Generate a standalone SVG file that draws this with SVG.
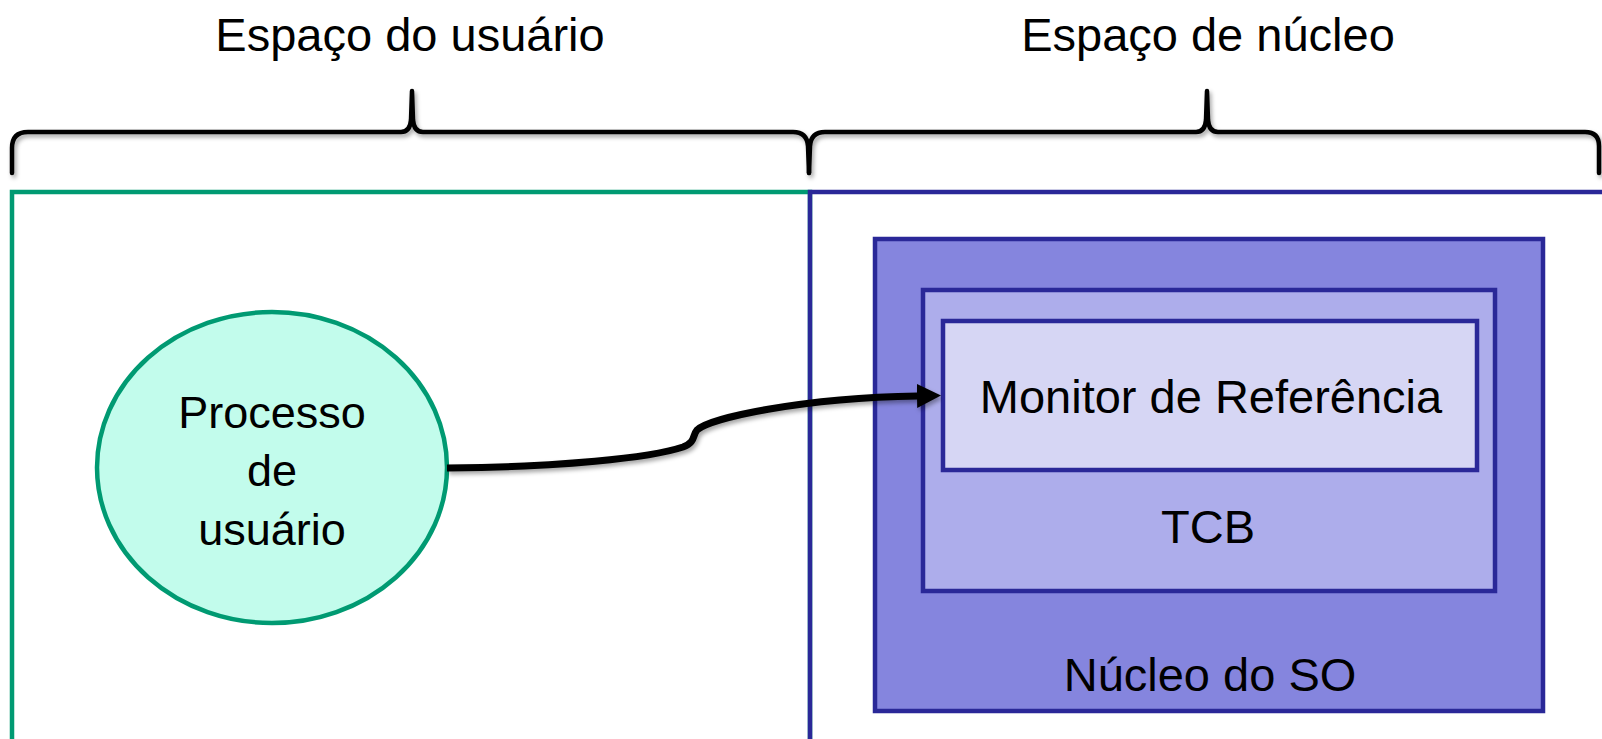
<svg xmlns="http://www.w3.org/2000/svg" width="1602" height="739" viewBox="0 0 1602 739">
  <defs>
    <style>
      .label { font-family: "Liberation Sans", Arial, sans-serif; fill: #000; text-anchor: middle; }
      .title { font-size: 47px; }
      .brace { fill: none; stroke: #000; stroke-width: 4.5; stroke-linecap: round; stroke-linejoin: round; }
      .box { stroke: #2a2898; stroke-width: 4.5; }
      .conn { fill: none; stroke: #000; stroke-width: 7; }
    </style>
    <filter id="shadow" x="-5%" y="-20%" width="110%" height="160%">
      <feDropShadow dx="2" dy="3" stdDeviation="2" flood-color="#000" flood-opacity="0.35"/>
    </filter>
    <marker id="arrowhead" markerUnits="userSpaceOnUse" markerWidth="26" markerHeight="26" refX="1" refY="12" orient="auto">
      <path d="M0,0 L24,12 L0,24 z" fill="#000"/>
    </marker>
  </defs>

  <!-- address-space regions -->
  <g id="user-space">
    <rect x="12" y="192" width="798" height="600" fill="none" stroke="#009a72" stroke-width="4.5"/>
    <text class="label title" x="410" y="51">Espaço do usuário</text>
  </g>
  <g id="kernel-space">
    <rect x="810" y="192" width="800" height="600" fill="none" stroke="#2a2898" stroke-width="4.5"/>
    <text class="label title" x="1208" y="51">Espaço de núcleo</text>
  </g>

  <!-- curly braces over each region -->
  <g id="braces" filter="url(#shadow)">
    <path class="brace" d="M12,173 L12,148 Q12,132 28,132 L401,132 Q410,132 411,120 L412,91 L413,120 Q414,132 423,132 L793,132 Q807,132 808,146 L809,173"/>
    <path class="brace" d="M809,173 L810,146 Q811,132 825,132 L1196,132 Q1205,132 1206,120 L1207,91 L1208,120 Q1209,132 1218,132 L1585,132 Q1599,132 1599,146 L1599,173"/>
  </g>

  <!-- user process -->
  <g id="user-process">
    <ellipse cx="272" cy="467.5" rx="175" ry="155.5" fill="#c2fcec" stroke="#009a72" stroke-width="4.5"/>
    <text class="label" font-size="45" x="272" y="428">Processo</text>
    <text class="label" font-size="45" x="272" y="486">de</text>
    <text class="label" font-size="45" x="272" y="545">usuário</text>
  </g>

  <!-- kernel layers -->
  <g id="os-kernel">
    <rect class="box" x="875" y="239" width="668" height="472" fill="#8585de"/>
    <text class="label title" x="1210" y="691">Núcleo do SO</text>
  </g>
  <g id="tcb">
    <rect class="box" x="923" y="290" width="572" height="301" fill="#adadeb"/>
    <text class="label title" x="1208" y="543">TCB</text>
  </g>
  <g id="reference-monitor">
    <rect class="box" x="943" y="321" width="534" height="149" fill="#d6d6f4"/>
    <text class="label title" x="1211" y="413">Monitor de Referência</text>
  </g>

  <!-- connectors -->
  <g id="connectors" filter="url(#shadow)">
    <path class="conn" d="M447,468 C560,467 650,458 683,447 C696,442 692,436 697,430 C710,418 800,398 918,396" marker-end="url(#arrowhead)"/>
  </g>
</svg>
